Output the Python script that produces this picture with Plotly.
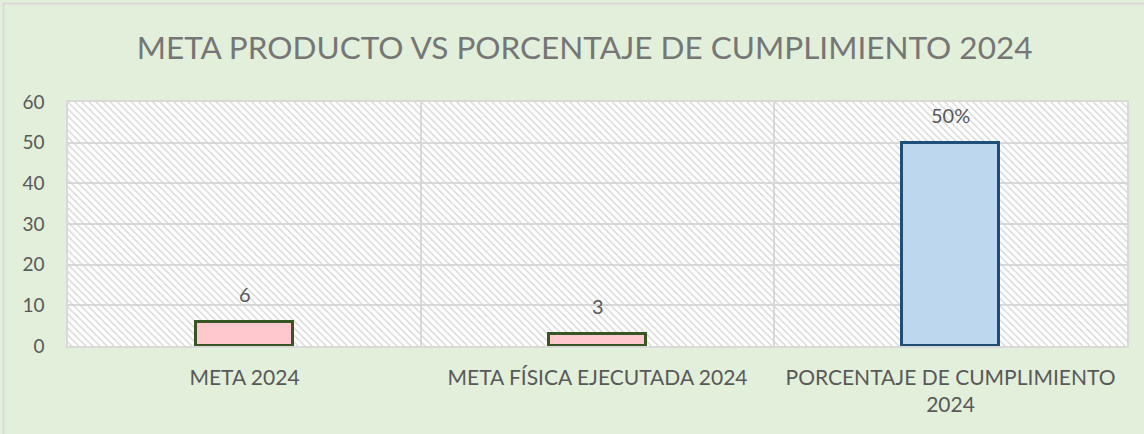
import plotly.graph_objects as go

# Chart data
categories = ["META 2024", "META FÍSICA EJECUTADA 2024", "PORCENTAJE DE CUMPLIMIENTO<br>2024"]
values = [6, 3, 50]
label_suffix = ["", "", "%"]
fill_colors = ["#FFC7CE", "#FFC7CE", "#BDD7EE"]
line_colors = ["#375623", "#375623", "#1F4E79"]
y_ticks = [0, 10, 20, 30, 40, 50, 60]

title_text = "META PRODUCTO VS PORCENTAJE DE CUMPLIMIENTO 2024"
FONT = "Lato"
TEXT_GRAY = "#595959"
GRID = "#D9D9D9"
BG = "#E2EFDA"

W, H = 1144, 434
M_L, M_R, M_T, M_B = 68, 17, 102, 88
plot_w = W - M_L - M_R
plot_h = H - M_T - M_B

fig = go.Figure()

# Hatched plot-area fill: full-width bars under every category, up to the axis top
fig.add_trace(go.Bar(
    x=categories, y=[y_ticks[-1]] * len(categories), width=1,
    marker=dict(
        color="rgba(0,0,0,0)",
        line=dict(width=0),
        pattern=dict(shape="\\", fgcolor="#D2D2D2", bgcolor="rgba(0,0,0,0)",
                     fillmode="replace", size=5, solidity=0.25),
    ),
    hoverinfo="skip", showlegend=False,
))

# Data bars
fig.add_trace(go.Bar(
    x=categories, y=values, width=0.275,
    marker=dict(color=fill_colors, line=dict(color=line_colors, width=3)),
    showlegend=False,
))

# Value labels above each bar
for cat, v, suf in zip(categories, values, label_suffix):
    fig.add_annotation(
        x=cat, y=v, text=f"{v}{suf}", showarrow=False,
        yanchor="bottom", yshift=14,
        font=dict(family=FONT, size=20, color=TEXT_GRAY),
    )

# Outer chart border (left/top edges visible)
fig.add_shape(
    type="rect", xref="paper", yref="paper",
    x0=(3.5 - M_L) / plot_w, x1=1.2,
    y0=-0.6, y1=1 + (M_T - 3.5) / plot_h,
    line=dict(color=GRID, width=2), fillcolor="rgba(0,0,0,0)", layer="below",
)

fig.update_layout(
    width=W, height=H,
    margin=dict(l=M_L, r=M_R, t=M_T, b=M_B),
    paper_bgcolor=BG, plot_bgcolor="white",
    barmode="overlay", bargap=0,
    title=dict(text=title_text, x=0.511, xanchor="center", y=1 - 48 / H, yanchor="middle",
               font=dict(family=FONT, size=31.5, color="#767676")),
    xaxis=dict(
        type="category", tickson="boundaries", showgrid=True, gridcolor=GRID, gridwidth=1.5,
        showline=True, linecolor=GRID, linewidth=1.5, mirror=True,
        ticks="", ticklabelstandoff=12, tickfont=dict(family=FONT, size=21, color=TEXT_GRAY),
        range=[-0.5, 2.5], fixedrange=True,
    ),
    yaxis=dict(
        range=[0, 60], tickvals=y_ticks, showgrid=True, gridcolor=GRID, gridwidth=1.5,
        showline=True, linecolor=GRID, linewidth=1.5, mirror=True,
        ticks="", ticklabelstandoff=18, zeroline=False,
        tickfont=dict(family=FONT, size=19, color=TEXT_GRAY), fixedrange=True,
    ),
    font=dict(family=FONT, color=TEXT_GRAY),
)

fig.write_html("out.html")
